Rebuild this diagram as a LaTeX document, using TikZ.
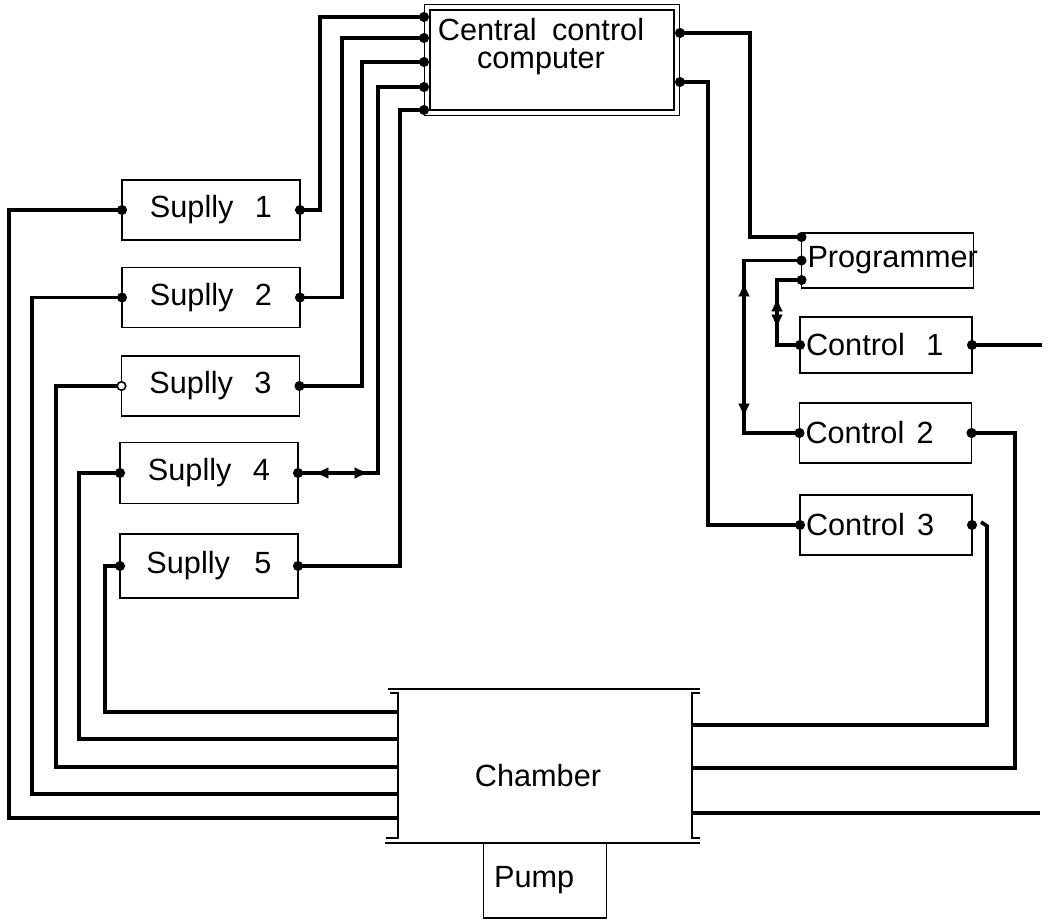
\documentclass[tikz,border=0pt]{standalone}
\usepackage{fontspec}
\setmainfont{Liberation Sans}
\usetikzlibrary{calc,arrows.meta,decorations.markings}

\begin{document}
\begin{tikzpicture}[x=0.75pt,y=-0.75pt,
  lbl/.style={font=\fontsize{23}{21}\selectfont},
  box/.style={draw, line width=1.4pt, inner sep=0pt, outer sep=0pt, lbl},
  supply/.style={box, minimum width=133.5pt, minimum height=#1},
  supply/.default=45pt,
  ctl/.style={box, minimum height=#1, text width=120pt, align=left, inner xsep=4.5pt},
  wire/.style={line width=2.8pt},
  thinline/.style={line width=1.4pt},
  twoway/.style n args={2}{decorate, decoration={markings,
      mark=at position #1 with {\arrowreversed{Latex[length=10pt,width=8.5pt]}},
      mark=at position #2 with {\arrow{Latex[length=10pt,width=8.5pt]}}}}
]
\useasboundingbox (0,0) rectangle (1048,920);

% central computer
\node[draw, line width=1pt, double, double distance=3pt, minimum width=187pt,
      minimum height=79pt, outer sep=2.5pt, inner sep=0pt] (cc) at (552,60) {};
\node[lbl, align=center] (cctext) at (541,47) {Central\hspace{0.5em}control\\computer};

% supplies
\node[supply] (s1) at (211,210) {Suplly\hspace{0.7em}1};
\node[supply] (s2) at (211,297.5) {Suplly\hspace{0.7em}2};
\node[supply] (s3) at (210.5,386) {Suplly\hspace{0.7em}3};
\node[supply=45.75pt] (s4) at (209,473) {Suplly\hspace{0.7em}4};
\node[supply=48pt] (s5) at (209,566) {Suplly\hspace{0.8em}5};

% programmer and controls
\node[ctl=41.25pt] (prog) at (887.5,260.5) {Programmer};
\node[ctl=42pt] (c1) at (886,345) {Control\hspace{0.7em}1};
\node[ctl=45pt] (c2) at (885.5,433) {Control\hspace{0.4em}2};
\node[ctl=45pt] (c3) at (886,525) {Control\hspace{0.4em}3};

% chamber and pump
\node[inner sep=0pt, outer sep=0pt, minimum width=220.5pt, minimum height=108.75pt] (ch) at (545,765.5) {};
\node[lbl] (chtext) at (538,776) {Chamber};
\node[box, minimum width=92.25pt, minimum height=56.25pt, text width=76.25pt,
      align=left, inner xsep=8pt] (pump) at (545,880.5) {Pump};

\draw[thinline] ($(ch.north west)+(-8,0)$) -- (ch.north west) -- (ch.south west) -- ($(ch.south west)+(-12,0)$);
\draw[thinline] ($(ch.north east)+(8,0)$) -- (ch.north east) -- (ch.south east) -- ($(ch.south east)+(8,0)$);
\draw[thinline] ($(ch.north west)+(-10,-4)$) -- ($(ch.north east)+(8,-4)$);
\draw[thinline] ($(ch.south west)+(-13,5)$) -- ($(ch.south east)+(8,5)$);

% port coordinates
\coordinate (ccL1) at (cc.west |- 0,17);
\coordinate (ccL2) at (cc.west |- 0,38);
\coordinate (ccL3) at (cc.west |- 0,62);
\coordinate (ccL4) at (cc.west |- 0,87);
\coordinate (ccL5) at (cc.west |- 0,110);
\coordinate (ccR1) at (cc.east |- 0,33);
\coordinate (ccR2) at (cc.east |- 0,82);
\coordinate (progL1) at (prog.west |- 0,237);
\coordinate (progL3) at (prog.west |- 0,280);
\coordinate (chL1) at (ch.west |- 0,818);
\coordinate (chL2) at (ch.west |- 0,794);
\coordinate (chL3) at (ch.west |- 0,767);
\coordinate (chL4) at (ch.west |- 0,739);
\coordinate (chL5) at (ch.west |- 0,712);
\coordinate (chR1) at (ch.east |- 0,725);
\coordinate (chR2) at (ch.east |- 0,768);
\coordinate (chR3) at (ch.east |- 0,813);
\coordinate (c3hook) at (981,522);
\coordinate (endR) at (1040,813);
\coordinate (endC1) at (c1.east -| 1042,0);

% supplies to computer
\draw[wire] (s1.east) -| (320,0 |- ccL1) -- (ccL1);
\draw[wire] (s2.east) -| (342,0 |- ccL2) -- (ccL2);
\draw[wire] (s3.east) -| (362,0 |- ccL3) -- (ccL3);
\draw[wire] (s4.east) -| (378,0 |- ccL4) -- (ccL4);
\draw[wire] (s5.east) -| (400,0 |- ccL5) -- (ccL5);
\path[twoway={12.75pt}{52.5pt}] (s4.east) -- (s4.east -| 378,0);

% supplies to chamber
\draw[wire] (s1.west) -| (9,0 |- chL1) -- (chL1);
\draw[wire] (s2.west) -| (32,0 |- chL2) -- (chL2);
\draw[wire] (s3.west) -| (56,0 |- chL3) -- (chL3);
\draw[wire] (s4.west) -| (79,0 |- chL4) -- (chL4);
\draw[wire] (s5.west) -| (105,0 |- chL5) -- (chL5);

% computer to programmer and control 3
\draw[wire] (ccR1) -| (750,0 |- progL1) -- (progL1);
\draw[wire] (ccR2) -| (708,0 |- c3.west) -- (c3.west);

% programmer to controls
\draw[wire] (prog.west) -| (744,0 |- c2.west) -- (c2.west);
\draw[wire] (progL3) -| (777,0 |- c1.west) -- (c1.west);
\path[twoway={16.9pt}{117.4pt}] (prog.west -| 744,0) -- (c2.west -| 744,0);
\path[twoway={13.5pt}{36pt}] (progL3 -| 777,0) -- (c1.west -| 777,0);

% controls to chamber and outputs
\draw[wire] (c1.east) -- (endC1);
\draw[wire] (c2.east) -| (1015,0 |- chR2) -- (chR2);
\draw[wire] (c3hook) -- (987,526) |- (chR1);
\draw[wire] (chR3) -- (endR);

% connection points
\foreach \p in {s1.west,s1.east,s2.west,s2.east,s3.east,s4.west,s4.east,s5.west,s5.east,
                ccL1,ccL2,ccL3,ccL4,ccL5,ccR1,ccR2,progL1,prog.west,progL3,
                c1.west,c1.east,c2.west,c2.east,c3.west,c3.east}
  \fill (\p) circle (3.8pt);
\draw[line width=1.2pt, fill=white] (s3.west) circle (3.2pt);
\end{tikzpicture}
\end{document}
